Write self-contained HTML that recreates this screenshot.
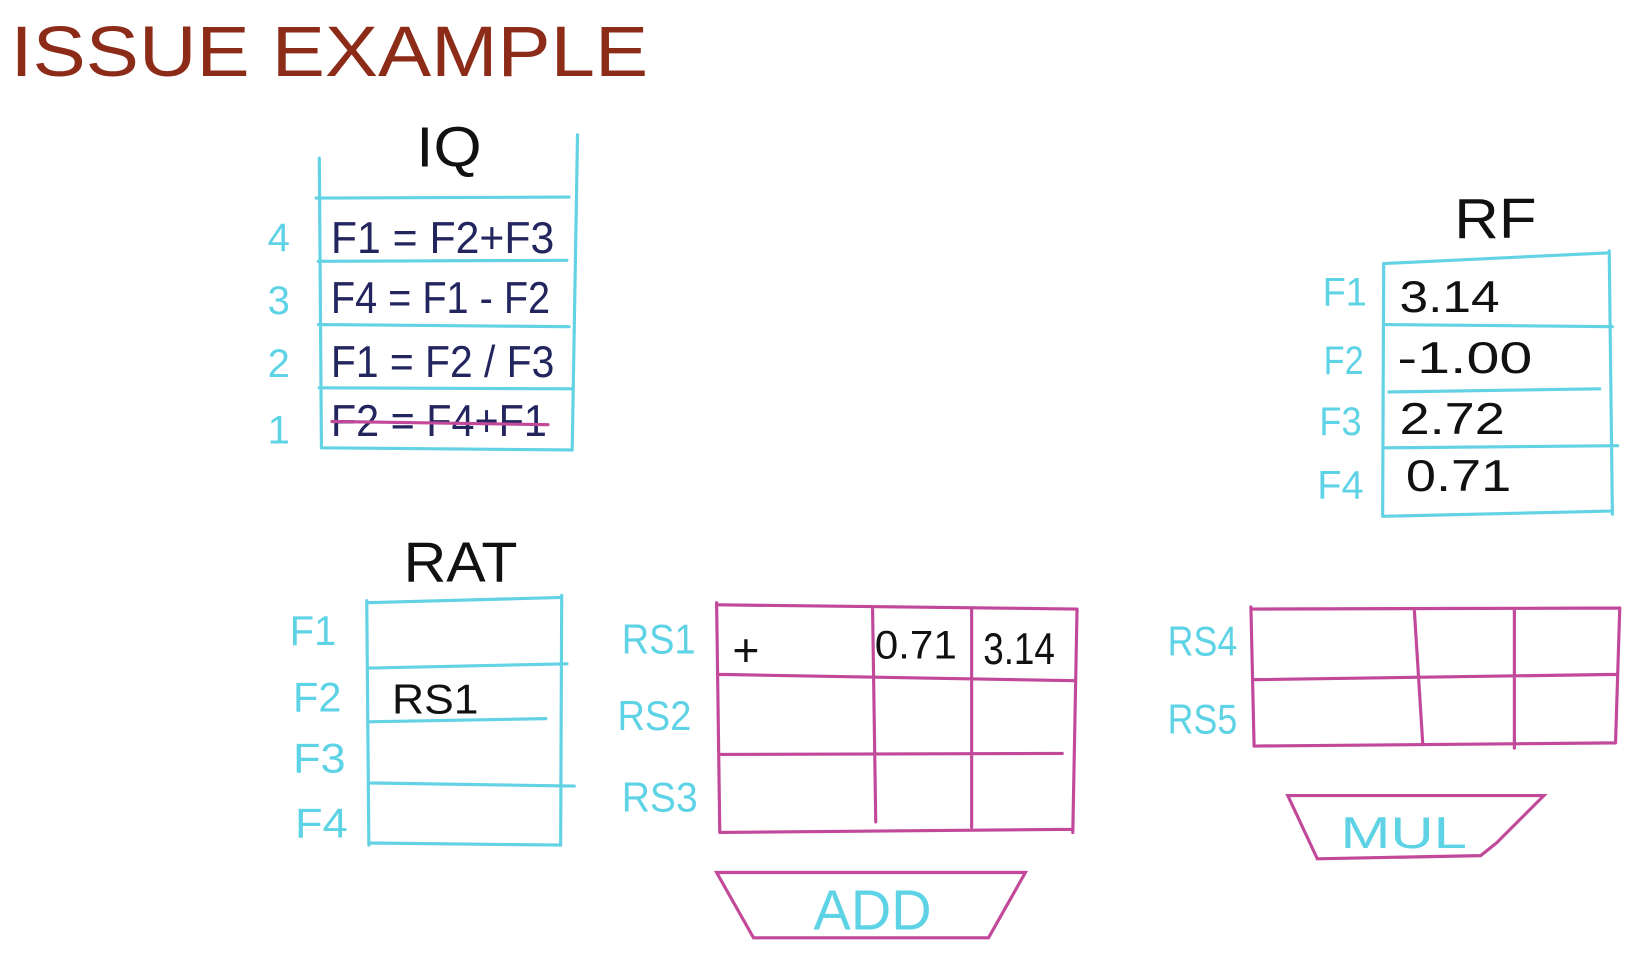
<!DOCTYPE html>
<html><head><meta charset="utf-8"><style>
html,body{margin:0;padding:0;background:#fff;}
svg{display:block}
text{font-family:"Liberation Sans",sans-serif;}
.c{fill:#5fd3e6}.n{fill:#23265e}.k{fill:#111}
.lc{stroke:#62d2e4;stroke-width:3;fill:none;stroke-linecap:round}
.lm{stroke:#c2489a;stroke-width:3;fill:none;stroke-linecap:round}
</style></head><body>
<svg width="1644" height="961" viewBox="0 0 1560 912" preserveAspectRatio="none">
<text x="10" y="72" font-size="68" fill="#8c2b18" textLength="605" lengthAdjust="spacingAndGlyphs">ISSUE  EXAMPLE</text>

<g>
<text x="395" y="158" font-size="54" class="k" textLength="62" lengthAdjust="spacingAndGlyphs">IQ</text>
<path class="lc" d="M303 150 L305 425 M548 128 L543 425 M300 188 L540 187 M302 248 L538 247 M302 308 L540 310 M303 368 L542 369 M305 425 L543 427"/>
<text x="254" y="238" font-size="38" class="c">4</text>
<text x="254" y="298" font-size="38" class="c">3</text>
<text x="254" y="358" font-size="38" class="c">2</text>
<text x="254" y="421" font-size="38" class="c">1</text>
<text x="314" y="240" font-size="42" class="n" textLength="212" lengthAdjust="spacingAndGlyphs">F1 = F2+F3</text>
<text x="314" y="297" font-size="42" class="n" textLength="208" lengthAdjust="spacingAndGlyphs">F4 = F1 - F2</text>
<text x="314" y="358" font-size="42" class="n" textLength="212" lengthAdjust="spacingAndGlyphs">F1 = F2 / F3</text>
<text x="314" y="414" font-size="42" class="n" textLength="205" lengthAdjust="spacingAndGlyphs">F2 = F4+F1</text>
<path class="lm" d="M315 400 L520 403"/>
</g>

<g>
<text x="1380" y="226" font-size="54" class="k" textLength="78" lengthAdjust="spacingAndGlyphs">RF</text>
<path class="lc" d="M1313 250 L1312 490 M1527 238 L1530 488 M1315 250 L1525 240 M1315 308 L1530 310 M1318 372 L1518 369 M1315 425 L1535 423 M1312 490 L1528 485"/>
<text x="1255" y="290" font-size="38" class="c" textLength="42" lengthAdjust="spacingAndGlyphs">F1</text>
<text x="1256" y="355" font-size="38" class="c" textLength="38" lengthAdjust="spacingAndGlyphs">F2</text>
<text x="1252" y="413" font-size="38" class="c" textLength="40" lengthAdjust="spacingAndGlyphs">F3</text>
<text x="1250" y="473" font-size="38" class="c" textLength="44" lengthAdjust="spacingAndGlyphs">F4</text>
<text x="1328" y="296" font-size="42" class="k" textLength="95" lengthAdjust="spacingAndGlyphs">3.14</text>
<text x="1326" y="354" font-size="42" class="k" textLength="128" lengthAdjust="spacingAndGlyphs">-1.00</text>
<text x="1328" y="412" font-size="42" class="k" textLength="100" lengthAdjust="spacingAndGlyphs">2.72</text>
<text x="1334" y="466" font-size="42" class="k" textLength="100" lengthAdjust="spacingAndGlyphs">0.71</text>
</g>

<g>
<text x="383" y="552" font-size="54" class="k" textLength="108" lengthAdjust="spacingAndGlyphs">RAT</text>
<path class="lc" d="M348 570 L350 802 M533 565 L532 802 M348 572 L533 567 M350 634 L538 630 M350 685 L518 682 M350 743 L545 746 M350 800 L532 802"/>
<text x="275" y="612" font-size="40" class="c" textLength="44" lengthAdjust="spacingAndGlyphs">F1</text>
<text x="278" y="675" font-size="40" class="c" textLength="46" lengthAdjust="spacingAndGlyphs">F2</text>
<text x="278" y="733" font-size="40" class="c" textLength="50" lengthAdjust="spacingAndGlyphs">F3</text>
<text x="280" y="795" font-size="40" class="c" textLength="50" lengthAdjust="spacingAndGlyphs">F4</text>
<text x="372" y="677" font-size="40" class="k" textLength="82" lengthAdjust="spacingAndGlyphs">RS1</text>
</g>

<g>
<path class="lm" d="M680 572 L683 790 M1022 578 L1018 790 M828 578 L831 780 M922 578 L922 785 M682 574 L1022 578 M682 640 L1020 646 M682 716 L1008 715 M683 790 L1018 787"/>
<text x="590" y="620" font-size="40" class="c" textLength="70" lengthAdjust="spacingAndGlyphs">RS1</text>
<text x="586" y="693" font-size="40" class="c" textLength="70" lengthAdjust="spacingAndGlyphs">RS2</text>
<text x="590" y="770" font-size="40" class="c" textLength="72" lengthAdjust="spacingAndGlyphs">RS3</text>
<text x="695" y="632" font-size="44" class="k">+</text>
<text x="830" y="625" font-size="38" class="k" textLength="78" lengthAdjust="spacingAndGlyphs">0.71</text>
<text x="933" y="630" font-size="42" class="k" textLength="68" lengthAdjust="spacingAndGlyphs">3.14</text>
</g>

<g>
<path class="lm" d="M1187 576 L1190 708 M1537 577 L1533 705 M1342 578 L1350 705 M1437 578 L1437 710 M1187 578 L1537 577 M1190 645 L1535 640 M1190 708 L1533 705"/>
<text x="1108" y="622" font-size="40" class="c" textLength="66" lengthAdjust="spacingAndGlyphs">RS4</text>
<text x="1108" y="696" font-size="40" class="c" textLength="66" lengthAdjust="spacingAndGlyphs">RS5</text>
</g>

<g>
<path class="lm" d="M1222 755 L1465 755 L1420 800 L1405 812 L1250 815 Z"/>
<text x="1272" y="805" font-size="42" class="c" textLength="120" lengthAdjust="spacingAndGlyphs">MUL</text>
</g>
<g>
<path class="lm" d="M680 828 L973 828 L938 890 L715 890 Z"/>
<text x="772" y="882" font-size="54" class="c" textLength="112" lengthAdjust="spacingAndGlyphs">ADD</text>
</g>
</svg>
</body></html>
